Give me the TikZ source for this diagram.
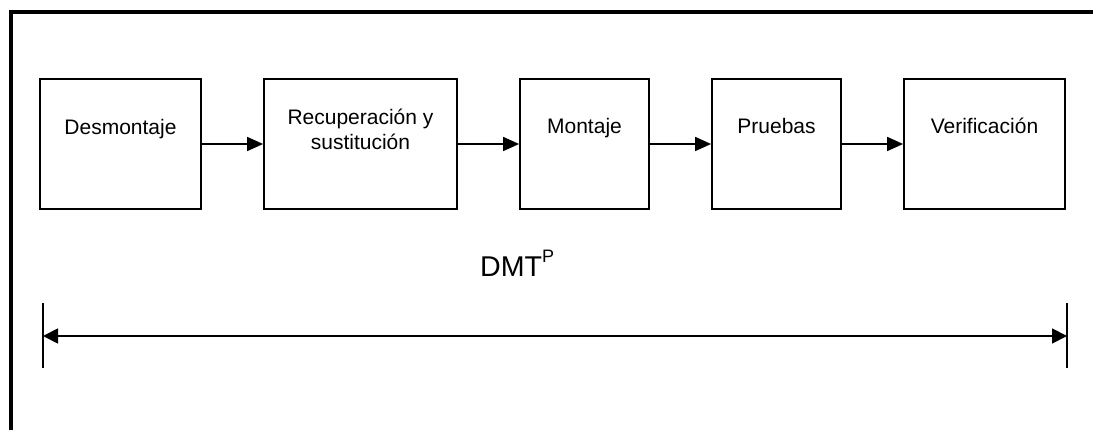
\documentclass[tikz,border=0pt]{standalone}
\usepackage{fontspec}
\setmainfont{Liberation Sans}
\usetikzlibrary{arrows.meta}
\begin{document}
\begin{tikzpicture}[x=1pt,y=-1pt,
  stage/.style={draw,line width=1.8pt,minimum width=#1,minimum height=130pt,inner sep=0pt},
  stagetext/.style={anchor=base,align=center,inner sep=0pt,font=\fontsize{21}{25}\selectfont},
  flow/.style={line width=1.8pt,-{Triangle[length=16pt,width=14pt]}},
  span/.style={line width=1.8pt,{Triangle[length=15pt,width=15pt]}-{Triangle[length=15pt,width=15pt]}},
  tick/.style={line width=1.5pt}]
\useasboundingbox (0,0) rectangle (1093,430);
% outer frame (top and left sides)
\draw[line width=4pt,line join=miter] (1093,12) -- (11,12) -- (11,430);
% process stages
\node[stage=161pt] (s1) at (120.5,144) {};
\node[stage=193pt] (s2) at (360.5,144) {};
\node[stage=129pt] (s3) at (584.5,144) {};
\node[stage=129pt] (s4) at (776.5,144) {};
\node[stage=161pt] (s5) at (984.5,144) {};
\node[stagetext] (t1) at (120.5,135) {Desmontaje};
\node[stagetext] (t2) at (360.5,150) {Recuperación y\\sustitución};
\node[stagetext] (t3) at (584.5,134) {Montaje};
\node[stagetext] (t4) at (776.5,134) {Pruebas};
\node[stagetext] (t5) at (984.5,134) {Verificación};
\draw[flow] (s1) -- (s2);
\draw[flow] (s2) -- (s3);
\draw[flow] (s3) -- (s4);
\draw[flow] (s4) -- (s5);
% overall time span
\coordinate (la) at (43,303);
\coordinate (lb) at (43,368);
\coordinate (ra) at (1067,303);
\coordinate (rb) at (1067,368);
\coordinate (l) at (43,336);
\coordinate (r) at (1067,336);
\draw[tick] (la) -- (lb);
\draw[tick] (ra) -- (rb);
\draw[span] (l) -- (r);
\node[anchor=base west,inner sep=0pt,font=\fontsize{28.6}{30}\selectfont] (dmt) at (480,277)
  {DMT\raisebox{14pt}{\fontsize{18}{18}\selectfont P}};
\end{tikzpicture}
\end{document}
